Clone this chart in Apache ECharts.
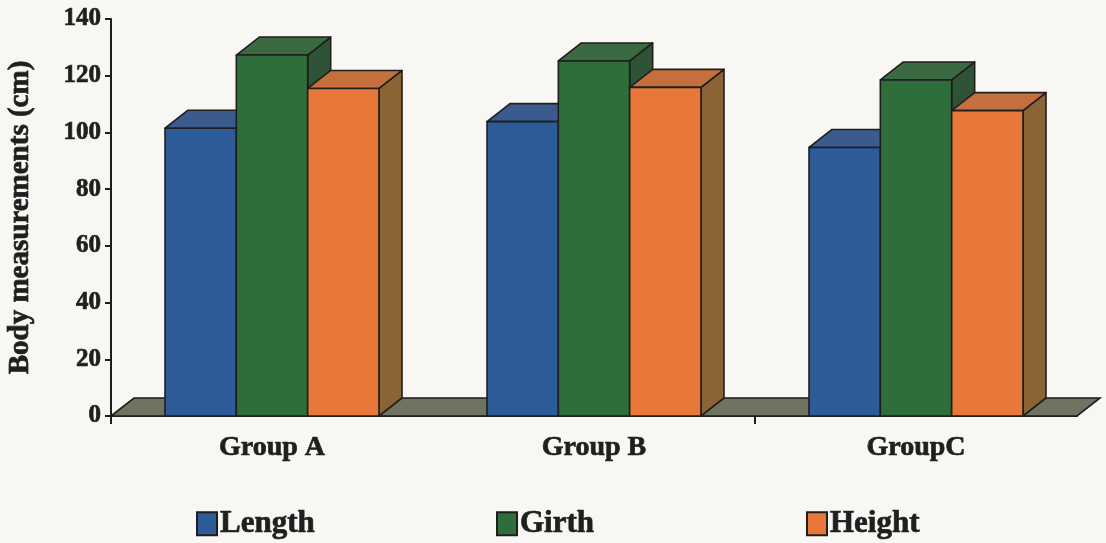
<!DOCTYPE html>
<html>
<head>
<meta charset="utf-8">
<script src="https://cdn.jsdelivr.net/npm/echarts@6/dist/echarts.min.js"></script>
<style>
  html, body { margin: 0; padding: 0; background: #f8f7f3; }
  #chart { width: 1106px; height: 543px; }
</style>
</head>
<body>
<div id="chart"></div>
<script>
// Category names and measured values (cm)
const categories = ['Group A', 'Group B', 'GroupC'];
const lengthValues = [101.5, 103.8, 94.7];
const girthValues = [127.3, 125.2, 118.5];
const heightValues = [115.5, 115.9, 107.7];
const seriesNames = ['Length', 'Girth', 'Height'];
const yTicks = { min: 0, max: 140, interval: 20 };

// Face colours for each prism: front, top, side
const palette = [
  { front: '#2d5b98', top: '#3a5b8c', side: '#2a4470' },
  { front: '#2f6d3b', top: '#3b6941', side: '#2e5336' },
  { front: '#e8773a', top: '#c46f3c', side: '#8b6436' }
];
const EDGE = '#1e1e1e';
const INK = '#1f1f1f';
const DEPTH_X = 23, DEPTH_Y = -18;
const BAR_FRAC = 0.2215;

const chart = echarts.init(document.getElementById('chart'));

function barRenderer(seriesIdx) {
  const c = palette[seriesIdx];
  return function (params, api) {
    const cat = api.value(0);
    const val = api.value(1);
    const top = api.coord([cat, val]);
    const base = api.coord([cat, 0]);
    const band = api.size([1, 0])[0];
    const w = band * BAR_FRAC;
    const x0 = top[0] + (seriesIdx - 1.5) * w;
    const x1 = x0 + w;
    const ty = top[1], by = base[1];
    const z2 = seriesIdx * 3;
    const style = { stroke: EDGE, lineWidth: 1.6, lineJoin: 'round' };
    return {
      type: 'group',
      children: [
        {
          type: 'polygon', z2: z2,
          shape: { points: [[x1, ty], [x1 + DEPTH_X, ty + DEPTH_Y], [x1 + DEPTH_X, by + DEPTH_Y], [x1, by]] },
          style: Object.assign({ fill: c.side }, style)
        },
        {
          type: 'polygon', z2: z2 + 1,
          shape: { points: [[x0, ty], [x0 + DEPTH_X, ty + DEPTH_Y], [x1 + DEPTH_X, ty + DEPTH_Y], [x1, ty]] },
          style: Object.assign({ fill: c.top }, style)
        },
        {
          type: 'rect', z2: z2 + 2,
          shape: { x: x0, y: ty, width: w, height: by - ty },
          style: Object.assign({ fill: c.front }, style)
        }
      ]
    };
  };
}

// Floor slab under the bars, plus the downward ticks at the axis start and the B/C boundary
function floorRenderer(params, api) {
  const cs = params.coordSys;
  const y0 = api.coord([0, 0])[1];
  const band = api.size([1, 0])[0];
  const xl = cs.x, xr = cs.x + cs.width;
  const tickXs = [api.coord([0, 0])[0] - band / 2, api.coord([2, 0])[0] - band / 2];
  const ticks = tickXs.map(tx => ({
    type: 'line',
    shape: { x1: tx, y1: y0, x2: tx, y2: y0 + 8 },
    style: { stroke: EDGE, lineWidth: 2 }
  }));
  return {
    type: 'group',
    children: [{
      type: 'polygon',
      shape: { points: [[xl, y0], [xl + DEPTH_X, y0 + DEPTH_Y], [xr + DEPTH_X, y0 + DEPTH_Y], [xr, y0]] },
      style: { fill: '#6f7361', stroke: EDGE, lineWidth: 1.6 }
    }].concat(ticks)
  };
}

const valueLists = [lengthValues, girthValues, heightValues];
const barSeries = seriesNames.map((name, i) => ({
  name: name,
  type: 'custom',
  z: 3,
  renderItem: barRenderer(i),
  itemStyle: { color: palette[i].front, borderColor: EDGE, borderWidth: 1.5 },
  encode: { x: 0, y: 1 },
  data: valueLists[i].map((v, k) => [k, v])
}));

const textFont = 'Liberation Serif';
const heavy = { fontFamily: textFont, fontWeight: 'bold', color: INK, textBorderColor: INK, textBorderWidth: 0.7 };
const legendLefts = [196, 496, 806];

chart.setOption({
  backgroundColor: '#f8f7f3',
  animation: false,
  grid: { left: 111, right: 29, top: 19, bottom: 127, containLabel: false, outerBoundsMode: 'none' },
  legend: seriesNames.map((name, i) => ({
    data: [name],
    left: legendLefts[i],
    top: 508,
    padding: 0,
    icon: 'rect',
    itemWidth: 20,
    itemHeight: 23,
    itemGap: 4,
    textStyle: Object.assign({ fontSize: 31, padding: [0, 0, 0, -2] }, heavy)
  })),
  xAxis: {
    type: 'category',
    data: categories,
    boundaryGap: true,
    axisLine: { show: true, lineStyle: { color: EDGE, width: 2 } },
    axisTick: { show: false },
    axisLabel: Object.assign({ margin: 18, fontSize: 28 }, heavy),
    splitLine: { show: false }
  },
  yAxis: {
    type: 'value',
    min: yTicks.min,
    max: yTicks.max,
    interval: yTicks.interval,
    name: 'Body measurements (cm)',
    nameLocation: 'middle',
    nameGap: 76,
    nameTextStyle: Object.assign({ fontSize: 29 }, heavy),
    axisLine: { show: true, lineStyle: { color: EDGE, width: 2 } },
    axisTick: { show: true, inside: false, length: 6, lineStyle: { color: EDGE, width: 2 } },
    axisLabel: Object.assign({ margin: 10, fontSize: 25 }, heavy),
    splitLine: { show: false }
  },
  series: [
    {
      name: 'floor',
      type: 'custom',
      z: 2,
      silent: true,
      renderItem: floorRenderer,
      data: [[0, 0]]
    }
  ].concat(barSeries)
});
</script>
</body>
</html>
